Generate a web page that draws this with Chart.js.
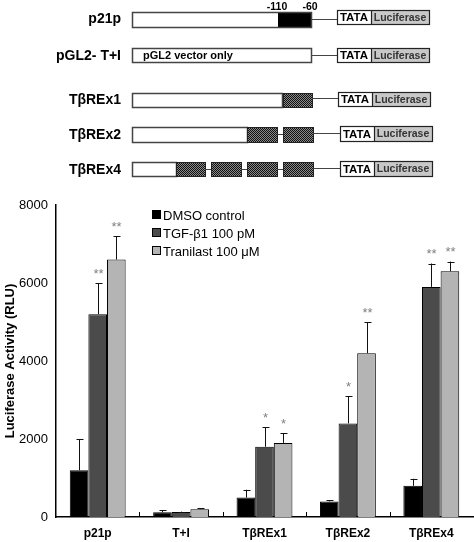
<!DOCTYPE html>
<html>
<head>
<meta charset="utf-8">
<script src="https://cdn.jsdelivr.net/npm/chart.js@4.4.1/dist/chart.umd.min.js"></script>
<style>
  html, body { margin: 0; padding: 0; background: #fff; }
  #wrap { width: 474px; height: 542px; position: relative; }
</style>
</head>
<body>
<div id="wrap"><canvas id="lucChart" width="474" height="542"></canvas></div>
<script>
// ---- data ----
const categories = ['p21p', 'T+I', 'TβREx1', 'TβREx2', 'TβREx4'];
const seriesNames = ['DMSO control', 'TGF-β1 100 pM', 'Tranilast 100 μM'];
const dmsoValues = [1200, 120, 500, 400, 800];
const dmsoErrors = [800, 50, 200, 30, 180];
const tgfValues = [5200, 130, 1800, 2400, 5900];
const tgfErrors = [800, 10, 500, 700, 600];
const tranValues = [6600, 200, 1900, 4200, 6300];
const tranErrors = [600, 20, 250, 800, 250];
const dmsoMarks = ['', '', '', '', ''];
const tgfMarks = ['**', '', '*', '*', '**'];
const tranMarks = ['**', '', '*', '**', '**'];
const yTicks = [0, 2000, 4000, 6000, 8000];

const FONT = '"Liberation Sans", Arial, Helvetica, sans-serif';
const barColors = ['#000000', '#4b4b4b', '#b4b4b4'];

// checker pattern for the TβRE boxes
function makeChecker() {
    const c = document.createElement('canvas');
    c.width = 2; c.height = 2;
    const g = c.getContext('2d');
    g.fillStyle = '#8a8a8a'; g.fillRect(0, 0, 2, 2);
    g.fillStyle = '#111'; g.fillRect(0, 0, 1, 1); g.fillRect(1, 1, 1, 1);
    return c;
}

// construct diagrams above the chart
const diagramPlugin = {
    id: 'diagram',
    afterDraw(chart) {
        const ctx = chart.ctx;
        const pat = ctx.createPattern(makeChecker(), 'repeat');
        ctx.save();

        function promoterBox(x1, x2, y1, y2) {
            ctx.fillStyle = '#fff';
            ctx.fillRect(x1, y1, x2 - x1, y2 - y1);
        }
        function outline(x1, x2, y1, y2) {
            ctx.strokeStyle = '#444'; ctx.lineWidth = 1.5;
            ctx.strokeRect(x1 + 0.5, y1 + 0.5, x2 - x1, y2 - y1);
        }
        function hatch(x1, x2, y1, y2) {
            ctx.fillStyle = pat;
            ctx.fillRect(x1, y1, x2 - x1, y2 - y1);
            ctx.strokeStyle = '#222'; ctx.lineWidth = 1;
            ctx.strokeRect(x1 + 0.5, y1 + 0.5, x2 - x1, y2 - y1);
        }
        function hline(x1, x2, y) {
            ctx.strokeStyle = '#444'; ctx.lineWidth = 1;
            ctx.beginPath(); ctx.moveTo(x1, y + 0.5); ctx.lineTo(x2, y + 0.5); ctx.stroke();
        }
        function reporter(x, y1, y2) {
            const xm = x + 34, xe = x + 92;
            ctx.fillStyle = '#fff'; ctx.fillRect(x, y1, xm - x, y2 - y1);
            ctx.fillStyle = '#c8c8c8'; ctx.fillRect(xm, y1, xe - xm, y2 - y1);
            ctx.strokeStyle = '#222'; ctx.lineWidth = 1.2;
            ctx.strokeRect(x + 0.5, y1 + 0.5, xe - x, y2 - y1);
            ctx.beginPath(); ctx.moveTo(xm + 0.5, y1); ctx.lineTo(xm + 0.5, y2); ctx.stroke();
            const yc = (y1 + y2) / 2 + 1;
            ctx.textBaseline = 'middle'; ctx.textAlign = 'center';
            ctx.fillStyle = '#000'; ctx.font = 'bold 11.5px ' + FONT;
            ctx.fillText('TATA', (x + xm) / 2, yc);
            ctx.fillStyle = '#333'; ctx.font = 'bold 10.5px ' + FONT;
            ctx.fillText('Luciferase', (xm + xe) / 2, yc);
        }
        function rowLabel(text, y) {
            ctx.fillStyle = '#000'; ctx.font = 'bold 14px ' + FONT;
            ctx.textAlign = 'right'; ctx.textBaseline = 'middle';
            ctx.fillText(text, 121, y);
        }

        // p21p
        rowLabel('p21p', 19);
        promoterBox(132, 312, 12, 28);
        ctx.fillStyle = '#000'; ctx.fillRect(278, 12, 34, 16);
        outline(132, 311, 12, 27);
        hline(312, 337, 19);
        reporter(337, 10, 24);
        ctx.fillStyle = '#000'; ctx.font = 'bold 10.5px ' + FONT;
        ctx.textAlign = 'center'; ctx.textBaseline = 'middle';
        ctx.fillText('-110', 277, 7);
        ctx.fillText('-60', 310, 7);

        // pGL2
        rowLabel('pGL2- T+I', 56);
        promoterBox(132, 312, 48, 63);
        outline(132, 311, 48, 62);
        ctx.fillStyle = '#000'; ctx.font = 'bold 11px ' + FONT;
        ctx.textAlign = 'left'; ctx.textBaseline = 'middle';
        ctx.fillText('pGL2 vector only', 143, 56);
        hline(312, 337, 55);
        reporter(337, 48, 62);

        // TβREx1
        rowLabel('TβREx1', 100);
        promoterBox(132, 283, 93, 108);
        outline(132, 282, 93, 107);
        hatch(283, 312, 93, 107);
        hline(312, 338, 98);
        reporter(338, 92, 106);

        // TβREx2
        rowLabel('TβREx2', 135);
        promoterBox(132, 247, 127, 143);
        outline(132, 247, 127, 142);
        hatch(247, 277, 127, 142);
        hline(277, 283, 134);
        hatch(283, 313, 127, 142);
        hline(313, 340, 133);
        reporter(340, 126, 141);

        // TβREx4
        rowLabel('TβREx4', 170);
        promoterBox(132, 176, 162, 177);
        outline(132, 176, 162, 176);
        hatch(176, 205, 162, 176);
        hline(205, 211, 169);
        hatch(211, 241, 162, 176);
        hline(241, 247, 169);
        hatch(247, 277, 162, 176);
        hline(277, 283, 169);
        hatch(283, 313, 162, 176);
        hline(313, 340, 168);
        reporter(340, 161, 176);

        ctx.restore();
    }
};

// one-sided error bars and significance marks
const errorPlugin = {
    id: 'errorBars',
    afterDatasetsDraw(chart) {
        const ctx = chart.ctx;
        const y = chart.scales.y;
        const errs = [dmsoErrors, tgfErrors, tranErrors];
        const vals = [dmsoValues, tgfValues, tranValues];
        const marks = [dmsoMarks, tgfMarks, tranMarks];
        ctx.save();
        errs.forEach((errArr, di) => {
            const meta = chart.getDatasetMeta(di);
            meta.data.forEach((bar, i) => {
                const top = y.getPixelForValue(vals[di][i]);
                const tip = y.getPixelForValue(vals[di][i] + errArr[i]);
                const x = Math.round(bar.x) + 0.5;
                ctx.strokeStyle = '#111'; ctx.lineWidth = 1;
                ctx.beginPath();
                ctx.moveTo(x, top); ctx.lineTo(x, tip);
                ctx.moveTo(x - 3, Math.round(tip) + 0.5); ctx.lineTo(x + 4, Math.round(tip) + 0.5);
                ctx.stroke();
                if (marks[di][i]) {
                    ctx.fillStyle = '#808080';
                    ctx.font = '13px ' + FONT;
                    ctx.textAlign = 'center'; ctx.textBaseline = 'middle';
                    ctx.fillText(marks[di][i], x, tip - 9);
                }
            });
        });
        ctx.restore();
    }
};

// legend box inside the plot
const legendPlugin = {
    id: 'customLegend',
    afterDraw(chart) {
        const ctx = chart.ctx;
        ctx.save();
        ctx.font = '13px ' + FONT;
        ctx.textAlign = 'left'; ctx.textBaseline = 'middle';
        chart.data.datasets.forEach((ds, i) => {
            const yc = 215 + i * 18;
            ctx.fillStyle = ds.backgroundColor;
            ctx.fillRect(152, yc - 5, 9, 9);
            ctx.strokeStyle = '#000'; ctx.lineWidth = 1;
            ctx.strokeRect(152.5, yc - 4.5, 8, 8);
            ctx.fillStyle = '#000';
            ctx.fillText(ds.label, 163, yc + 1);
        });
        ctx.restore();
    }
};

// small upward ticks on the x axis at category boundaries
const xTickPlugin = {
    id: 'xTicks',
    afterDraw(chart) {
        const ctx = chart.ctx;
        const x = chart.scales.x;
        const area = chart.chartArea;
        ctx.save();
        ctx.strokeStyle = '#000'; ctx.lineWidth = 1;
        ctx.beginPath();
        for (let i = 1; i < categories.length; i++) {
            const px = Math.round((x.getPixelForValue(i - 1) + x.getPixelForValue(i)) / 2) + 0.5;
            ctx.moveTo(px, area.bottom); ctx.lineTo(px, area.bottom - 5);
        }
        ctx.stroke();
        ctx.restore();
    }
};

new Chart(document.getElementById('lucChart'), {
    type: 'bar',
    data: {
        labels: categories,
        datasets: [
            { label: seriesNames[0], data: dmsoValues, backgroundColor: barColors[0] },
            { label: seriesNames[1], data: tgfValues, backgroundColor: barColors[1] },
            { label: seriesNames[2], data: tranValues, backgroundColor: barColors[2] }
        ].map(d => Object.assign(d, {
            borderColor: '#000', borderWidth: 1,
            categoryPercentage: 0.67, barPercentage: 1.0
        }))
    },
    options: {
        responsive: false,
        animation: false,
        events: [],
        layout: { padding: { top: 205, right: 1, left: 3, bottom: 0 } },
        plugins: { legend: { display: false }, tooltip: { enabled: false } },
        scales: {
            x: {
                grid: { display: false, drawTicks: false },
                border: { color: '#000', width: 1.5 },
                ticks: { color: '#000', font: { family: FONT, size: 12, weight: 'bold' }, padding: 9 },
                afterFit: s => { s.height = 25; }
            },
            y: {
                min: 0, max: 8000,
                afterBuildTicks: s => { s.ticks = yTicks.map(v => ({ value: v })); },
                grid: { display: false, drawOnChartArea: false, drawTicks: true, tickLength: 5, tickColor: '#000' },
                border: { color: '#000', width: 1.5 },
                ticks: { color: '#000', font: { family: FONT, size: 13 }, padding: 3, callback: v => String(v) },
                title: {
                    display: true, text: 'Luciferase Activity (RLU)', color: '#000',
                    font: { family: FONT, size: 13, weight: 'bold' }, padding: { top: 0, bottom: 2 }
                },
                afterFit: s => { s.width = 53; }
            }
        }
    },
    plugins: [diagramPlugin, errorPlugin, legendPlugin, xTickPlugin]
});
</script>
</body>
</html>
